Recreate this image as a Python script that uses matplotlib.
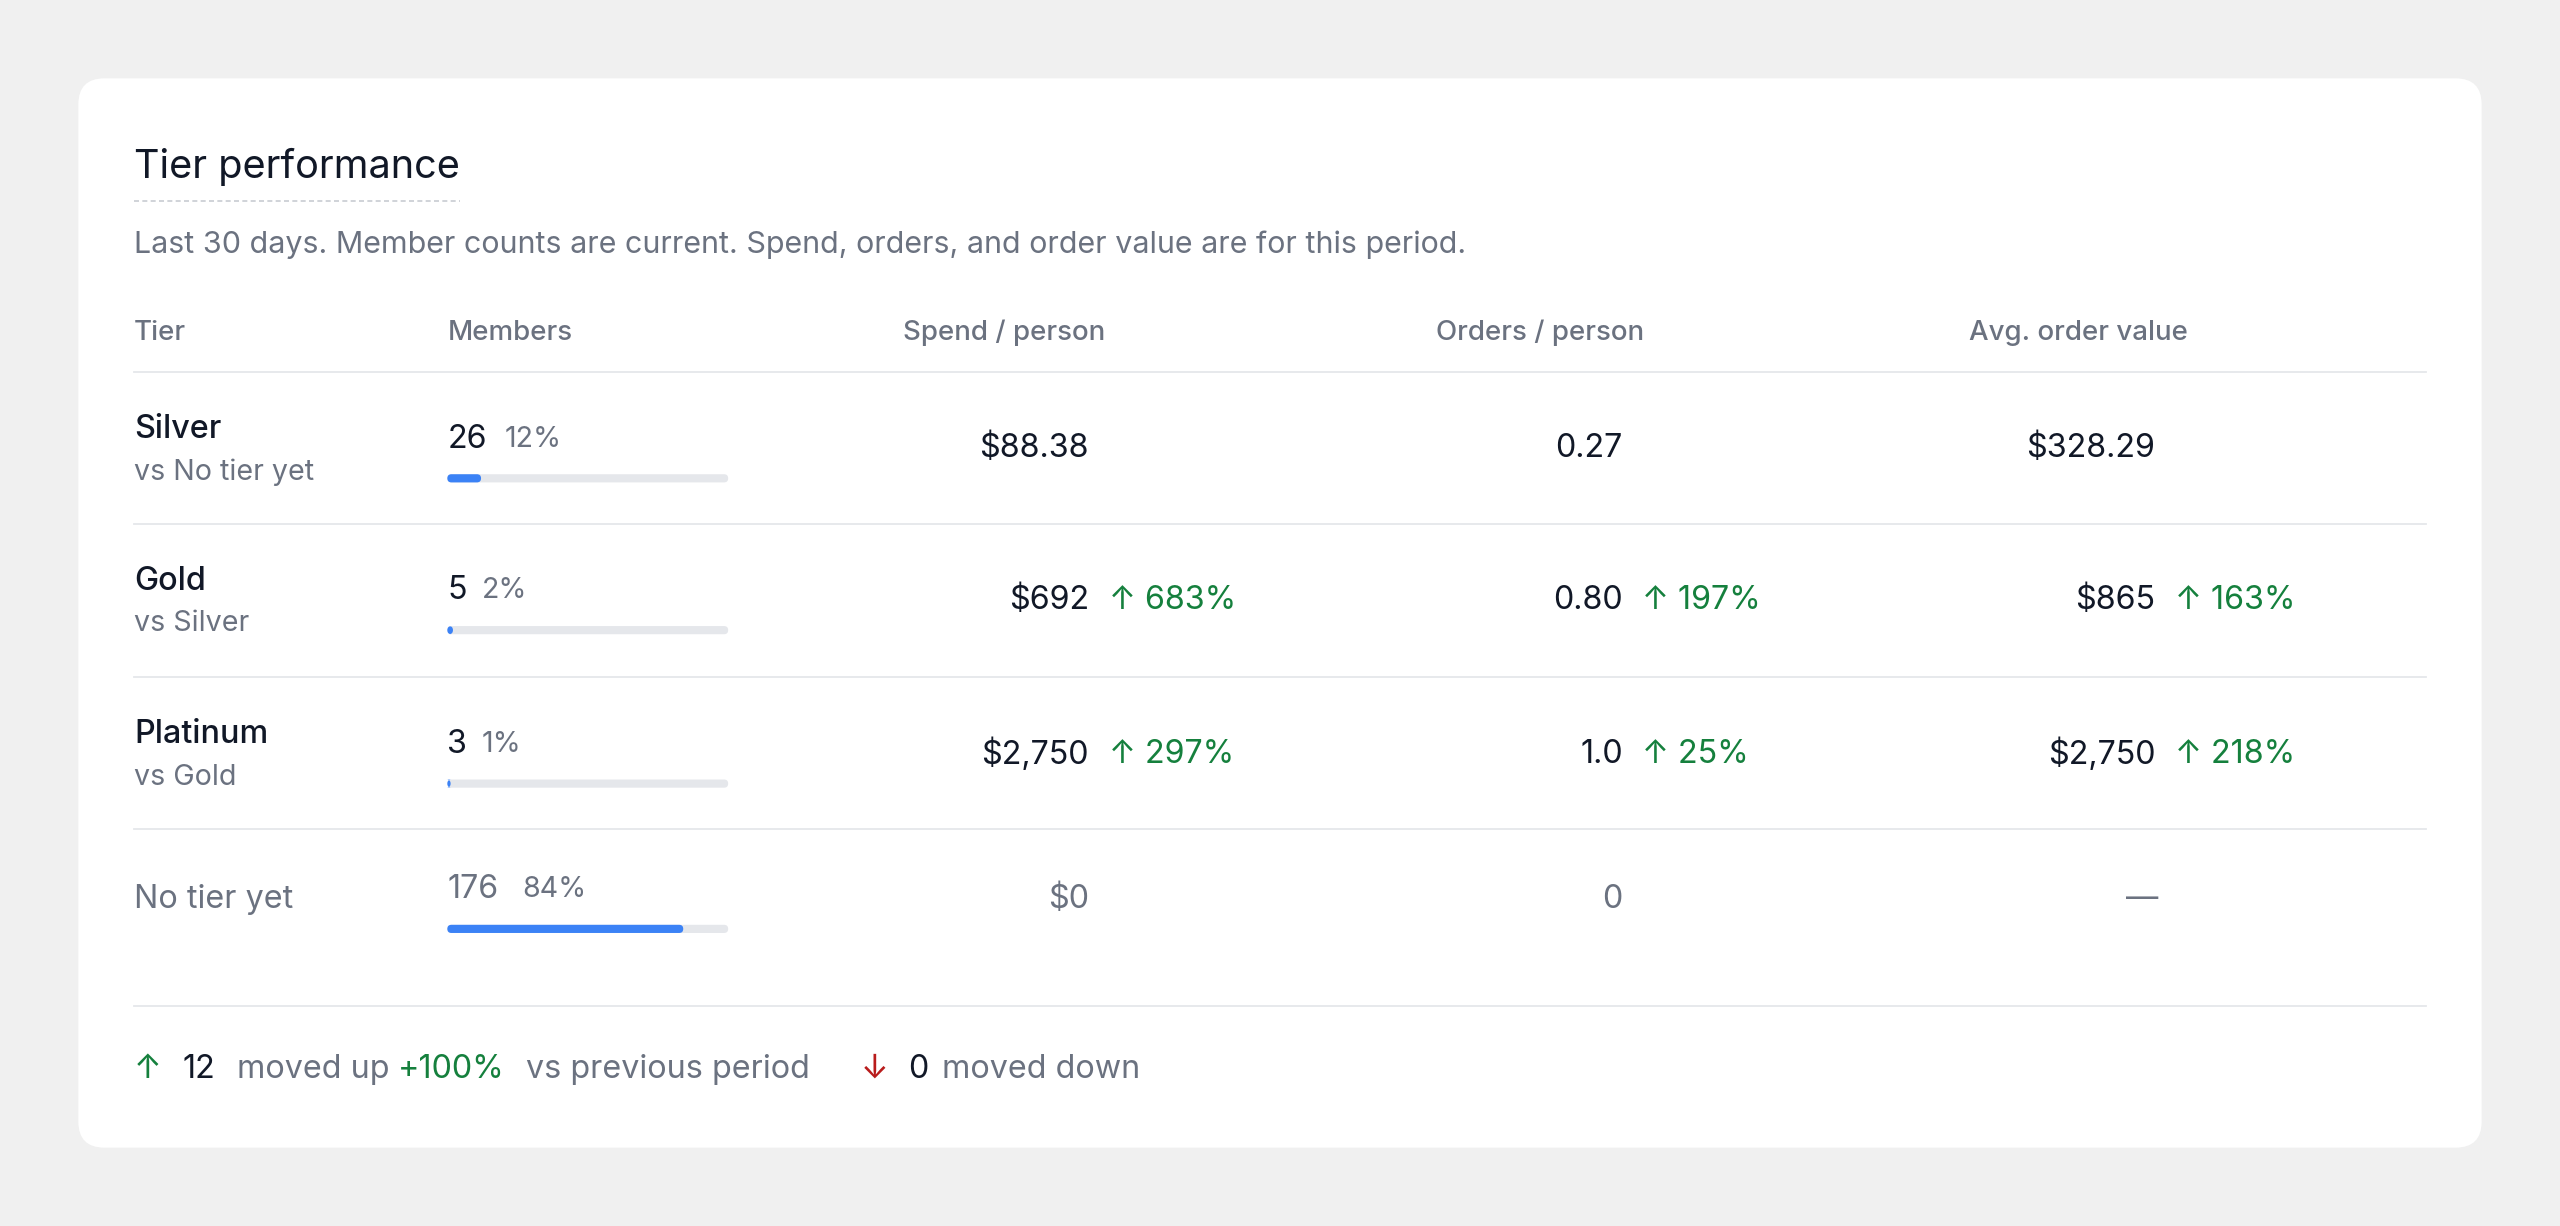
import matplotlib.pyplot as plt
from matplotlib.patches import FancyBboxPatch

plt.rcParams['font.family'] = ['Inter', 'DejaVu Sans']

# data
tiers = ["Silver", "Gold", "Platinum", "No tier yet"]
compare = ["vs No tier yet", "vs Silver", "vs Gold", ""]
members = [26, 5, 3, 176]
member_pct = [12, 2, 1, 84]
spend = ["$88.38", "$692", "$2,750", "$0"]
spend_chg = ["", "683%", "297%", ""]
orders = ["0.27", "0.80", "1.0", "0"]
orders_chg = ["", "197%", "25%", ""]
aov = ["$328.29", "$865", "$2,750", "—"]
aov_chg = ["", "163%", "218%", ""]
moved_up = 12
moved_up_chg = "+100%"
moved_down = 0

W, H = 1568, 751
K = 1.176 * 1.13  # displayed px -> pt, widened to match reference font
DARK = "#111827"
GRAY = "#6b7280"
GREEN = "#15803d"
RED = "#b91c1c"
BLUE = "#3b82f6"
LINE = "#e5e7eb"

fig = plt.figure(figsize=(25.6, 12.26), dpi=100)
fig.patch.set_facecolor("#f0f0f0")
ax = fig.add_axes([0, 0, 1, 1])
ax.set_xlim(0, W)
ax.set_ylim(H, 0)
ax.axis("off")

ax.add_patch(FancyBboxPatch((48, 48), 1472, 655, boxstyle="round,pad=0,rounding_size=16",
                            fc="white", ec="none"))

ax.text(82, 102, "Tier performance", fontsize=21.5 * K, color=DARK, va="center")
ax.plot([82, 282], [123, 123], color="#c8ccd2", lw=1.2, ls=(0, (3, 2)))
ax.text(82, 150, "Last 30 days. Member counts are current. Spend, orders, and order value are for this period.",
        fontsize=16.5 * K, color=GRAY, va="center")

hy = 204
for txt, x, ha in [("Tier", 82, "left"), ("Members", 274, "left"), ("Spend / person", 615, "center"),
                   ("Orders / person", 943, "center"), ("Avg. order value", 1273, "center")]:
    ax.text(x, hy, txt, fontsize=15 * K, color=GRAY, va="center", ha=ha, fontweight="medium")
ax.plot([82, 1486], [228, 228], color=LINE, lw=1.3)

row_top = [228, 321, 415, 508]
for i, t in enumerate(tiers):
    top = row_top[i]
    last = i == len(tiers) - 1
    cy = top + 47 if not last else top + 43
    col = GRAY if last else DARK
    if compare[i]:
        ax.text(82, top + 35, t, fontsize=17.5 * K, color=DARK, va="center", fontweight="medium")
        ax.text(82, top + 61, compare[i], fontsize=15.5 * K, color=GRAY, va="center")
    else:
        ax.text(82, cy, t, fontsize=17.5 * K, color=GRAY, va="center")
    # members
    my = top + 41 if not last else top + 37
    ax.text(274, my, str(members[i]), fontsize=17.5 * K, color=col, va="center")
    off = 35 if members[i] < 100 else 46
    if members[i] < 10:
        off = 21
    ax.text(274 + off, my, f"{member_pct[i]}%", fontsize=15.5 * K, color=GRAY, va="center")
    by = my + 24
    ax.add_patch(FancyBboxPatch((274, by - 2.5), 172, 5, boxstyle="round,pad=0,rounding_size=2.5",
                                fc=LINE, ec="none"))
    ax.add_patch(FancyBboxPatch((274, by - 2.5), max(172 * member_pct[i] / 100, 2), 5,
                                boxstyle="round,pad=0,rounding_size=2.5", fc=BLUE, ec="none"))
    # value columns
    for vals, chg, xr in [(spend, spend_chg, 667), (orders, orders_chg, 994), (aov, aov_chg, 1320)]:
        if last and vals is aov:
            ax.text(1312, cy, vals[i], fontsize=17.5 * K, color=GRAY, va="center", ha="center")
        else:
            ax.text(xr, cy, vals[i], fontsize=17.5 * K, color=col, va="center", ha="right")
        if chg[i]:
            ax.text(xr + 12, cy, "↑ " + chg[i], fontsize=17.5 * K, color=GREEN, va="center")
    if i > 0:
        ax.plot([82, 1486], [top, top], color=LINE, lw=1.3)
ax.plot([82, 1486], [616, 616], color=LINE, lw=1.3)

fy = 655
ax.text(82, fy, "↑", fontsize=18 * K, color=GREEN, va="center")
ax.text(112, fy, str(moved_up), fontsize=17.5 * K, color=DARK, va="center")
ax.text(145, fy, "moved up", fontsize=17.5 * K, color=GRAY, va="center")
ax.text(244, fy, moved_up_chg, fontsize=17.5 * K, color=GREEN, va="center")
ax.text(322, fy, "vs previous period", fontsize=17.5 * K, color=GRAY, va="center")
ax.text(527, fy, "↓", fontsize=18 * K, color=RED, va="center")
ax.text(556, fy, str(moved_down), fontsize=17.5 * K, color=DARK, va="center")
ax.text(577, fy, "moved down", fontsize=17.5 * K, color=GRAY, va="center")

fig.savefig("out.png", dpi=100, facecolor=fig.get_facecolor())
